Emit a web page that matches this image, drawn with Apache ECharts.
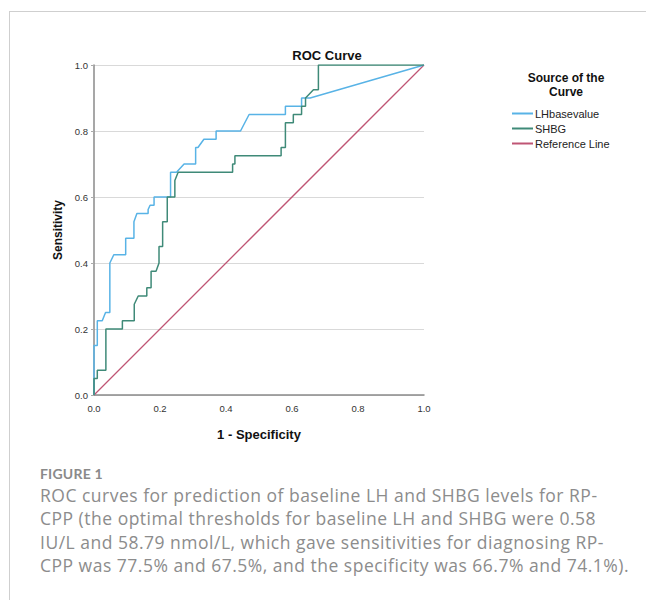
<!DOCTYPE html>
<html>
<head>
<meta charset="utf-8">
<title>ROC Curve</title>
<script src="https://cdn.jsdelivr.net/npm/echarts@6/dist/echarts.min.js"></script>
<style>
  html, body { margin: 0; padding: 0; background: #fff; }
  .page { position: relative; width: 646px; height: 600px; overflow: hidden; }
  .frame {
    position: absolute; left: 9px; top: 11px; right: -2px; bottom: -2px;
    border-top: 1px solid #cfcfcf; border-left: 1px solid #cfcfcf;
  }
  #chart { position: absolute; left: 0; top: 0; width: 646px; height: 600px; }
  .caption {
    position: absolute; left: 40px; top: 464px; width: 600px;
    font-family: "Open Sans", Lato, sans-serif; color: #8c8c8c;
    white-space: nowrap;
  }
  .caption .fig { font-family: Lato, sans-serif; font-size: 14px; font-weight: 700; letter-spacing: 0.2px; line-height: 20px; color: #8a8a8a; }
  .caption .txt { font-size: 17.5px; line-height: 23.4px; letter-spacing: 0.5px; margin-top: 0; }
</style>
</head>
<body>
<div class="page">
  <div class="frame"></div>
  <div id="chart"></div>
  <div class="caption">
    <div class="fig">FIGURE 1</div>
    <div class="txt">ROC curves for prediction of baseline LH and SHBG levels for RP-<br>CPP (the optimal thresholds for baseline LH and SHBG were 0.58<br>IU/L and 58.79 nmol/L, which gave sensitivities for diagnosing RP-<br>CPP was 77.5% and 67.5%, and the specificity was 66.7% and 74.1%).</div>
  </div>
</div>
<script>
// 1 - specificity / sensitivity pairs
const lhX = [0, 0, 0.01, 0.01, 0.025, 0.035, 0.048, 0.048, 0.06, 0.096, 0.096, 0.121, 0.121, 0.13, 0.164, 0.164, 0.17, 0.182, 0.182, 0.232, 0.232, 0.25, 0.273, 0.308, 0.308, 0.315, 0.333, 0.37, 0.37, 0.444, 0.47, 0.58, 0.58, 0.629, 0.629, 0.655, 1];
const lhY = [0, 0.15, 0.15, 0.225, 0.225, 0.25, 0.25, 0.4, 0.425, 0.425, 0.475, 0.475, 0.525, 0.55, 0.55, 0.562, 0.575, 0.575, 0.6, 0.6, 0.675, 0.675, 0.7, 0.7, 0.75, 0.75, 0.775, 0.775, 0.8, 0.8, 0.85, 0.85, 0.875, 0.875, 0.9, 0.9, 1];

const shbgX = [0, 0, 0.01, 0.01, 0.036, 0.036, 0.086, 0.086, 0.122, 0.122, 0.134, 0.16, 0.16, 0.173, 0.173, 0.188, 0.197, 0.197, 0.208, 0.208, 0.222, 0.222, 0.245, 0.245, 0.255, 0.42, 0.42, 0.427, 0.427, 0.567, 0.567, 0.58, 0.58, 0.604, 0.604, 0.629, 0.629, 0.641, 0.641, 0.665, 0.68, 0.68, 1];
const shbgY = [0, 0.05, 0.05, 0.075, 0.075, 0.2, 0.2, 0.225, 0.225, 0.275, 0.3, 0.3, 0.325, 0.325, 0.375, 0.375, 0.4, 0.45, 0.45, 0.525, 0.525, 0.6, 0.6, 0.65, 0.675, 0.675, 0.7, 0.7, 0.725, 0.725, 0.75, 0.75, 0.825, 0.825, 0.85, 0.85, 0.875, 0.875, 0.9, 0.925, 0.925, 1, 1];

const refX = [0, 1];
const refY = [0, 1];

const seriesNames = ["LHbasevalue", "SHBG", "Reference Line"];
const seriesColors = ["#58b3e6", "#3f8a78", "#bf5574"];
const tickLabels = ["0.0", "0.2", "0.4", "0.6", "0.8", "1.0"];

const pairs = (xs, ys) => xs.map((x, i) => [x, ys[i]]);

const chart = echarts.init(document.getElementById("chart"), null, { renderer: "svg" });

const axisFont = { fontFamily: "Liberation Sans, Arial, sans-serif", fontSize: 9.5, color: "#333" };

const option = {
  animation: false,
  color: seriesColors,
  title: [
    {
      text: "ROC Curve",
      left: 322, top: 44, textAlign: "center",
      textStyle: { fontFamily: "Liberation Sans, Arial, sans-serif", fontSize: 13, fontWeight: "bold", color: "#111" },
    },
    {
      text: "Source of the\nCurve",
      left: 561, top: 66, textAlign: "center",
      textStyle: { fontFamily: "Liberation Sans, Arial, sans-serif", fontSize: 12, fontWeight: "bold", color: "#111", lineHeight: 14 },
    },
  ],
  legend: {
    orient: "vertical",
    left: 507, top: 102,
    itemWidth: 21, itemHeight: 2, itemGap: 2,
    icon: "rect",
    data: seriesNames,
    textStyle: { fontFamily: "Liberation Sans, Arial, sans-serif", fontSize: 11, color: "#222", lineHeight: 13, padding: [0, 0, 0, -3] },
  },
  grid: { left: 94, top: 65, width: 330, height: 330 },
  xAxis: {
    type: "value", min: 0, max: 1, interval: 0.2,
    name: "1 - Specificity", nameLocation: "middle", nameGap: 33,
    nameTextStyle: { fontFamily: "Liberation Sans, Arial, sans-serif", fontSize: 13, fontWeight: "bold", color: "#111" },
    axisLine: { lineStyle: { color: "#8a8a8a", width: 1.5 } },
    axisTick: { show: false },
    axisLabel: Object.assign({ margin: 8, formatter: (v) => tickLabels[Math.round(v * 5)] }, axisFont),
    splitLine: { show: false },
  },
  yAxis: {
    type: "value", min: 0, max: 1, interval: 0.2,
    name: "Sensitivity", nameLocation: "middle", nameGap: 30,
    nameTextStyle: { fontFamily: "Liberation Sans, Arial, sans-serif", fontSize: 12, fontWeight: "bold", color: "#111" },
    axisLine: { show: true, lineStyle: { color: "#8a8a8a", width: 1.5 } },
    axisTick: { show: true, length: 3, lineStyle: { color: "#aaa" } },
    axisLabel: Object.assign({ margin: 6, formatter: (v) => tickLabels[Math.round(v * 5)] }, axisFont),
    splitLine: { show: true, lineStyle: { color: "#d9d9d9", width: 1 } },
  },
  series: [
    { name: seriesNames[0], type: "line", data: pairs(lhX, lhY), showSymbol: false, symbol: "none", lineStyle: { width: 1.5 }, z: 3 },
    { name: seriesNames[1], type: "line", data: pairs(shbgX, shbgY), showSymbol: false, symbol: "none", lineStyle: { width: 1.5 }, z: 4 },
    { name: seriesNames[2], type: "line", data: pairs(refX, refY), showSymbol: false, symbol: "none", lineStyle: { width: 1.3 }, z: 2 },
  ],
};

chart.setOption(option);
</script>
</body>
</html>
